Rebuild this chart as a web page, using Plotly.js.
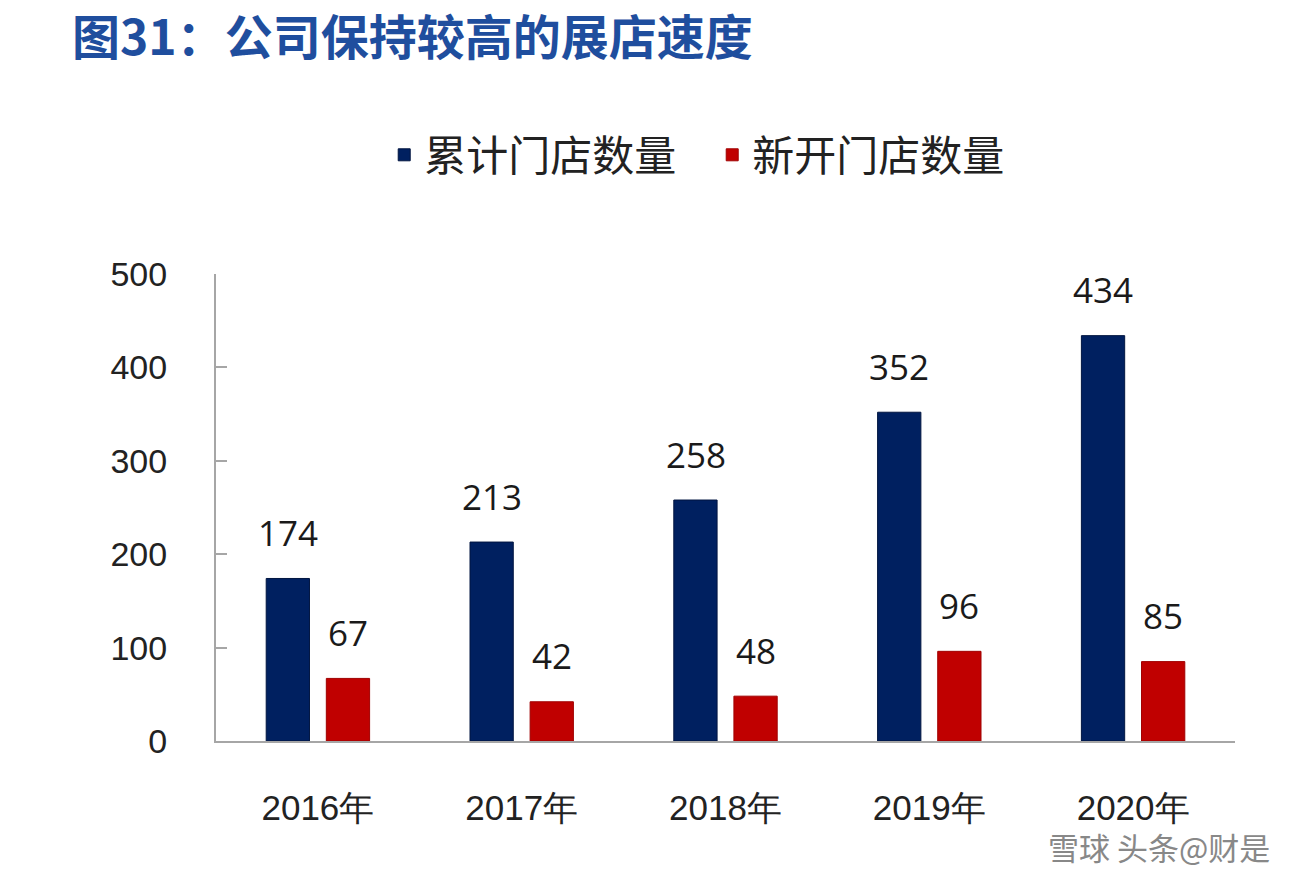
<!DOCTYPE html>
<html>
<head>
<meta charset="utf-8">
<script src="https://cdn.plot.ly/plotly-3.0.1.min.js"></script>
<style>html,body{margin:0;padding:0;background:#fff;}#chart{width:1298px;height:878px;}</style>
</head>
<body>
<div id="chart"></div>
<script>
const categories = ['2016年', '2017年', '2018年', '2019年', '2020年'];
const cumulativeStores = [174, 213, 258, 352, 434];
const newStores = [67, 42, 48, 96, 85];
const seriesNames = ['累计门店数量', '新开门店数量'];
const yTicks = [0, 100, 200, 300, 400, 500];

const NAVY = '#002060';
const RED = '#C00000';

const traces = [
  {type: 'bar', name: seriesNames[0], x: categories, y: cumulativeStores,
   marker: {color: NAVY, line: {color: '#001540', width: 1}}, hoverinfo: 'x+y'},
  {type: 'bar', name: seriesNames[1], x: categories, y: newStores,
   marker: {color: RED, line: {color: '#a00000', width: 1}}, hoverinfo: 'x+y'}
];

const labelFont = {family: 'Open Sans, Noto Sans, sans-serif', size: 35, color: '#1a1a1a'};
const annotations = [];
categories.forEach((c, i) => {
  annotations.push({x: c, y: cumulativeStores[i], text: String(cumulativeStores[i]), showarrow: false,
    xshift: -30, yshift: 46, yanchor: 'middle', font: labelFont});
  annotations.push({x: c, y: newStores[i], text: String(newStores[i]), showarrow: false,
    xshift: 30, yshift: 46, yanchor: 'middle', font: labelFont});
});
annotations.push({xref: 'paper', yref: 'paper', x: 1.036, y: -0.225, xanchor: 'right', yanchor: 'middle',
  text: '雪球 头条@财是', showarrow: false,
  font: {family: 'Noto Sans CJK SC, sans-serif', size: 31, color: '#888'}});

const layout = {
  width: 1298, height: 878,
  paper_bgcolor: '#ffffff', plot_bgcolor: '#ffffff',
  margin: {l: 216, r: 63, t: 274, b: 137},
  title: {text: '<b>图31：公司保持较高的展店速度</b>', xref: 'container', yref: 'container',
    x: 72 / 1298, xanchor: 'left', y: 1 - 38 / 878, yanchor: 'middle',
    font: {family: 'Noto Sans CJK SC, sans-serif', size: 48, color: '#1F4E9E'}},
  barmode: 'group', bargap: 0.41, bargroupgap: 0.28,
  showlegend: true,
  legend: {orientation: 'h', xref: 'container', yref: 'container', x: 0.5487, xanchor: 'center',
    y: 1 - 155 / 878, yanchor: 'middle', entrywidth: 283, entrywidthmode: 'pixels',
    font: {family: 'Noto Sans CJK SC, sans-serif', size: 42, color: '#222'}},
  xaxis: {type: 'category', showline: true, linecolor: '#a6a6a6', linewidth: 2, ticks: '',
    showgrid: false, zeroline: false, ticklabelstandoff: 35,
    tickfont: {family: 'Liberation Sans, Arial, sans-serif', size: 35, color: '#222'}},
  yaxis: {range: [0, 500], tickvals: yTicks, showline: true, linecolor: '#a6a6a6', linewidth: 2,
    ticks: 'inside', ticklen: 11, tickcolor: '#a6a6a6', tickwidth: 2,
    showgrid: false, zeroline: false, ticklabelstandoff: 40,
    tickfont: {family: 'Liberation Sans, Arial, sans-serif', size: 34, color: '#222'}},
  annotations: annotations
};

Plotly.newPlot('chart', traces, layout, {displayModeBar: false, staticPlot: true});
</script>
</body>
</html>
